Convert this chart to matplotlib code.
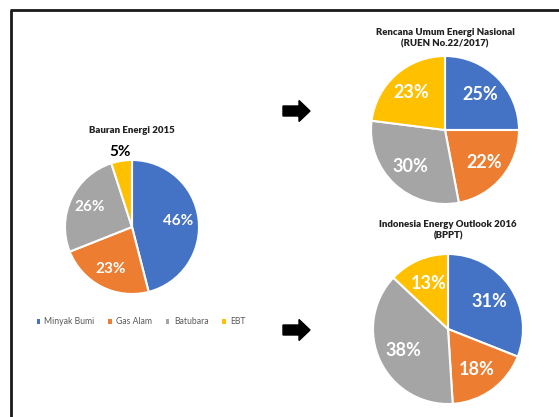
import matplotlib
matplotlib.use("Agg")
import matplotlib.pyplot as plt
from matplotlib.patches import FancyArrow, Patch
import numpy as np

plt.rcParams['font.family'] = ['Lato', 'DejaVu Sans']

categories = ['Minyak Bumi', 'Gas Alam', 'Batubara', 'EBT']
colors = ['#4472C4', '#ED7D31', '#A5A5A5', '#FFC000']

bauran_2015 = [46, 23, 26, 5]
ruen_2017 = [25, 22, 30, 23]
outlook_2016 = [31, 18, 38, 13]

titles = ['Bauran Energi 2015',
          'Rencana Umum Energi Nasional\n(RUEN No.22/2017)',
          'Indonesia Energy Outlook 2016\n(BPPT)']

W, H = 559, 417
fig = plt.figure(figsize=(W / 100, H / 100), dpi=100)
ax = fig.add_axes([0, 0, 1, 1])


def draw_pie(values, cx, cy, r, fs, pctd):
    wedges, _ = ax.pie(values, colors=colors, startangle=90, counterclock=False,
                       center=(cx, H - cy), radius=r,
                       wedgeprops=dict(edgecolor='white', linewidth=1.5))
    total = sum(values)
    start = 90.0
    for v in values:
        mid = np.deg2rad(start - v / total * 360 / 2)
        start -= v / total * 360
        if v / total < 0.08:
            d, col = 1.13, 'black'
        else:
            d, col = pctd, 'white'
        ax.text(cx + d * r * np.cos(mid), H - cy + d * r * np.sin(mid), f'{v}%',
                ha='center', va='center', color=col, fontsize=fs, fontweight='bold')
    return wedges


draw_pie(bauran_2015, 132, 227, 67, 11, 0.7)
draw_pie(ruen_2017, 445, 130, 74, 13, 0.68)
draw_pie(outlook_2016, 448, 329, 75, 13, 0.66)

title_kw = dict(ha='center', va='center', fontsize=6.9, fontweight='heavy',
                color='#222222', linespacing=1.3)
ax.text(132, H - 130, titles[0], **title_kw)
ax.text(445, H - 38, titles[1], **title_kw)
ax.text(448, H - 230, titles[2], **title_kw)

# arrows
for ay in [111, 330]:
    ax.add_patch(FancyArrow(283, H - ay, 27, 0, width=10, head_width=21,
                            head_length=11, length_includes_head=True,
                            color='black'))

# frame lines
ax.plot([11, 11], [H - 10, 0], color='#1a1a1a', lw=2, solid_capstyle='butt')
ax.plot([10, W], [H - 10, H - 10], color='#1a1a1a', lw=2, solid_capstyle='butt')

ax.set_xlim(0, W)
ax.set_ylim(0, H)
ax.set_aspect('auto')
ax.axis('off')

handles = [Patch(facecolor=c, edgecolor='none') for c in colors]
leg = fig.legend(handles, categories, loc='center', bbox_to_anchor=(141 / W, 1 - 322 / H),
                 ncol=4, frameon=False, fontsize=6.2, handlelength=0.4,
                 handleheight=0.4, handletextpad=0.5, columnspacing=1.6)
for t in leg.get_texts():
    t.set_color('#595959')

plt.savefig('out.png', dpi=100)
